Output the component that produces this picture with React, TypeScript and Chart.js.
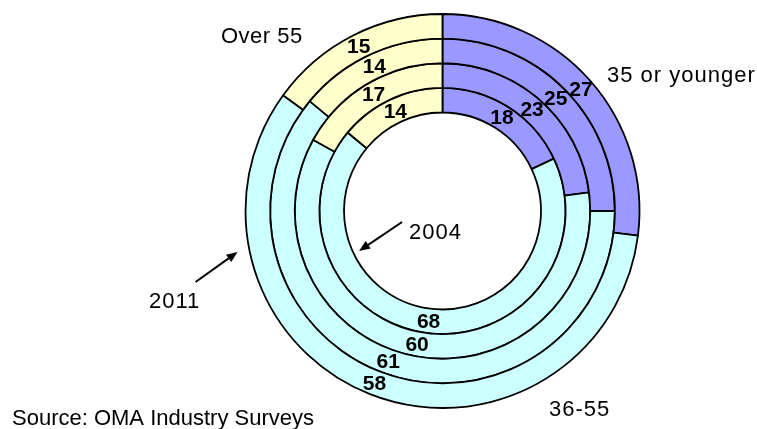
import React, { useEffect, useRef } from "react";
import { Chart, registerables } from "chart.js";

Chart.register(...registerables);

// Age groups (slice order, clockwise from 12 o'clock)
const categories = ["35 or younger", "36-55", "Over 55"];
// Rings, outermost first
const ringNames = ["2011", "Survey 3", "Survey 2", "2004"];
const values2011 = [27, 58, 15];
const valuesRing2 = [25, 61, 14];
const valuesRing3 = [23, 60, 17];
const values2004 = [18, 68, 14];
const sliceColors = ["#9999FF", "#CCFFFF", "#FFFFCC"];
const sourceText = "Source: OMA Industry Surveys";

const TEXT_FONT = '22px "Liberation Sans", Arial, sans-serif';
const SOURCE_FONT = '22px "Liberation Sans", Arial, sans-serif';
const VALUE_FONT = 'bold 21px "Liberation Sans", Arial, sans-serif';

const valueLabels = {
  id: "valueLabels",
  afterDatasetsDraw(chart: any) {
    const ctx = chart.ctx;
    ctx.save();
    ctx.font = VALUE_FONT;
    ctx.fillStyle = "#000";
    ctx.textAlign = "center";
    ctx.textBaseline = "middle";
    chart.data.datasets.forEach((ds: any, i: number) => {
      const meta = chart.getDatasetMeta(i);
      meta.data.forEach((arc: any, j: number) => {
        const p = arc.getCenterPoint();
        ctx.fillText(String(ds.data[j]), p.x, p.y + 1);
      });
    });
    ctx.restore();
  },
};

function drawArrow(ctx: CanvasRenderingContext2D, x1: number, y1: number, x2: number, y2: number) {
  const ang = Math.atan2(y2 - y1, x2 - x1);
  const head = 11;
  const half = 4.5;
  const bx = x2 - head * Math.cos(ang);
  const by = y2 - head * Math.sin(ang);
  ctx.beginPath();
  ctx.moveTo(x1, y1);
  ctx.lineTo(bx, by);
  ctx.lineWidth = 2;
  ctx.strokeStyle = "#000";
  ctx.stroke();
  ctx.beginPath();
  ctx.moveTo(x2, y2);
  ctx.lineTo(bx + half * Math.sin(ang), by - half * Math.cos(ang));
  ctx.lineTo(bx - half * Math.sin(ang), by + half * Math.cos(ang));
  ctx.closePath();
  ctx.fillStyle = "#000";
  ctx.fill();
}

function label(ctx: any, text: string, x: number, y: number, spacing: number) {
  ctx.letterSpacing = spacing + "px";
  ctx.fillText(text, x, y);
  ctx.letterSpacing = "0px";
}

const annotations = {
  id: "annotations",
  afterDraw(chart: any) {
    const ctx = chart.ctx;
    const outerArc = chart.getDatasetMeta(0).data[0];
    const innerArc = chart.getDatasetMeta(chart.data.datasets.length - 1).data[0];
    if (!outerArc || !innerArc) return;
    const cx = outerArc.x;
    const cy = outerArc.y;
    const rOut = outerArc.outerRadius;
    const rIn = innerArc.innerRadius;
    ctx.save();
    ctx.fillStyle = "#000";
    ctx.textAlign = "left";
    ctx.textBaseline = "alphabetic";
    ctx.font = TEXT_FONT;
    label(ctx, categories[2], 221, 43, 0.5);
    label(ctx, categories[0], 607, 82, 1);
    label(ctx, categories[1], 549, 416, 1);
    label(ctx, ringNames[3], 409, 239, 1);
    label(ctx, ringNames[0], 149, 308, 1);
    ctx.font = SOURCE_FONT;
    ctx.fillText(sourceText, 12, 425);

    // arrow to inner ring (2004)
    const a1 = (154.4 * Math.PI) / 180;
    const t1x = cx + (rIn - 6) * Math.cos(a1);
    const t1y = cy + (rIn - 6) * Math.sin(a1);
    drawArrow(ctx, t1x + 43, t1y - 29, t1x, t1y);
    // arrow to outer ring (2011)
    const a2 = (168.7 * Math.PI) / 180;
    const t2x = cx + (rOut + 12) * Math.cos(a2);
    const t2y = cy + (rOut + 12) * Math.sin(a2);
    drawArrow(ctx, t2x - 42, t2y + 30, t2x, t2y);
    ctx.restore();
  },
};

export default function App() {
  const canvasRef = useRef<HTMLCanvasElement | null>(null);

  useEffect(() => {
    const canvas = canvasRef.current;
    if (!canvas) return;
    const ringData = [values2011, valuesRing2, valuesRing3, values2004];
    const chart = new Chart(canvas, {
      type: "doughnut",
      data: {
        labels: categories,
        datasets: ringData.map((vals, i) => ({
          label: ringNames[i],
          data: vals,
          backgroundColor: sliceColors,
          borderColor: "#000000",
          borderWidth: 1.8,
        })),
      },
      options: {
        responsive: false,
        animation: false,
        events: [],
        cutout: "50%",
        radius: 197,
        layout: { padding: { left: 128, right: 0, top: 0, bottom: 7 } },
        plugins: {
          legend: { display: false },
          tooltip: { enabled: false },
          title: { display: false },
        },
      } as any,
      plugins: [valueLabels, annotations],
    });
    return () => chart.destroy();
  }, []);

  return (
    <div style={{ position: "absolute", left: 0, top: 0, width: 757, height: 429, background: "#fff" }}>
      <canvas ref={canvasRef} width={757} height={429} style={{ width: 757, height: 429, display: "block" }} />
    </div>
  );
}
